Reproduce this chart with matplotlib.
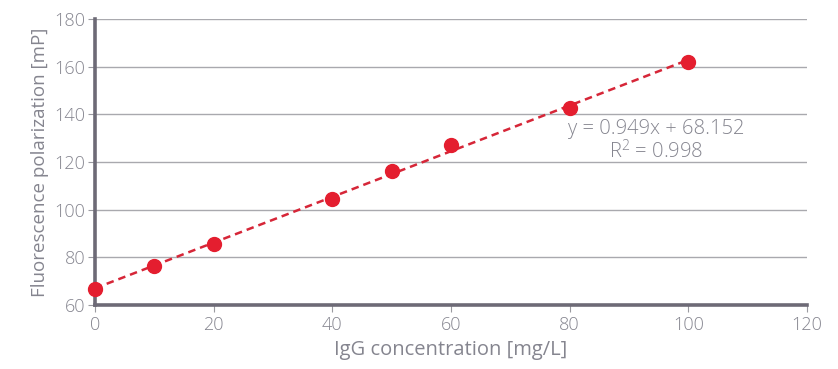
import numpy as np
import matplotlib
matplotlib.use("Agg")
import matplotlib.pyplot as plt

conc = [0, 10, 20, 40, 50, 60, 80, 100]
fp = [66.7, 76.4, 85.4, 104.6, 116.3, 127.2, 142.8, 161.8]
xticks = [0, 20, 40, 60, 80, 100, 120]
yticks = [60, 80, 100, 120, 140, 160, 180]
eq_text = "y = 0.949x + 68.152\nR$^2$ = 0.998"

plt.rcParams['font.family'] = ['Open Sans', 'DejaVu Sans']
plt.rcParams['font.weight'] = 'light'
plt.rcParams['mathtext.default'] = 'regular'
txt = '#85858f'
axc = '#6d6a76'
red = '#e41e2f'

fig = plt.figure(figsize=(8.38, 3.69), dpi=100)
ax = fig.add_axes([95/838, 1-305/369, (807-95)/838, (305-19)/369])

ax.set_xlim(0, 120)
ax.set_ylim(60, 180)
ax.set_xticks(xticks)
ax.set_yticks(yticks)
ax.yaxis.grid(True, color='#a9a9ae', linewidth=1.0)
ax.set_axisbelow(True)
for s in ['top', 'right']:
    ax.spines[s].set_visible(False)
for s in ['left', 'bottom']:
    ax.spines[s].set_color(axc)
    ax.spines[s].set_linewidth(2.6)
ax.tick_params(axis='both', colors='#9a9aa0', labelcolor=txt, labelsize=13, length=5, width=0.8)
ax.tick_params(axis='x', pad=3)
ax.tick_params(axis='y', pad=2)

slope, intercept = np.polyfit(conc, fp, 1)
xl = np.array([conc[0], conc[-1]])
ax.plot(xl, slope*xl + intercept, linestyle=(0, (3, 2)), color='#d62638', linewidth=1.8, zorder=3)
ax.plot(conc, fp, 'o', color=red, markersize=10, zorder=4, clip_on=False)

ax.text(94.6, 128.8, eq_text, ha='center', va='center', color=txt, fontsize=14.5, linespacing=1.05)

ax.set_xlabel('IgG concentration [mg/L]', color=txt, fontsize=14.5, labelpad=4)
ax.set_ylabel('Fluorescence polarization [mP]', color=txt, fontsize=13.5, labelpad=4)

fig.savefig('out.png', dpi=100)
